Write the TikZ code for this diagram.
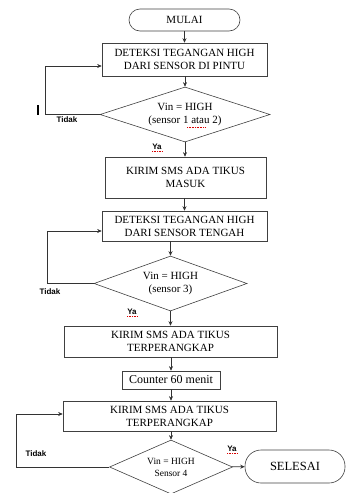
\documentclass[tikz,border=0pt]{standalone}
\usepackage{fontspec}
\setmainfont{Liberation Serif}
\newfontfamily\lblfont{Liberation Sans}
\usetikzlibrary{shapes.geometric,arrows.meta}

\begin{document}
\begin{tikzpicture}[x=1pt,y=-1pt,
  every node/.style={font=\fontsize{11}{13}\selectfont, align=center},
  proc/.style={draw=black!75, line width=.6pt, inner sep=1pt},
  term/.style={proc, rounded corners=11pt},
  decision/.style={proc, diamond, shape aspect=3},
  arr/.style={-{Stealth[length=4.5pt,width=4pt]}, draw=black!80, line width=.6pt},
  lbl/.style={font=\lblfont\bfseries\fontsize{8}{9}\selectfont, inner sep=0pt},
  spell/.style={red!85!black, densely dotted, line width=.6pt}]
\useasboundingbox (0,0) rectangle (347,493);
\node[term, minimum width=111pt, minimum height=22pt] (start) at (184.5,20) {MULAI};
\node[proc, minimum width=165pt, minimum height=33pt] (b1) at (184.5,59.5) {DETEKSI TEGANGAN HIGH\\DARI SENSOR DI PINTU};
\node[decision, minimum width=170pt, minimum height=55pt] (d1) at (185,114.5) {Vin = HIGH\\(sensor 1 atau 2)};
\node[proc, minimum width=161pt, minimum height=41pt] (b2) at (185.5,177.5) {KIRIM SMS ADA TIKUS\\MASUK};
\node[proc, minimum width=165pt, minimum height=30pt] (b3) at (184.5,226) {DETEKSI TEGANGAN HIGH\\DARI SENSOR TENGAH};
\node[decision, minimum width=153pt, minimum height=55pt] (d2) at (170.5,283.5) {Vin = HIGH\\(sensor 3)};
\node[proc, minimum width=213pt, minimum height=31pt] (b4) at (170.5,341.5) {KIRIM SMS ADA TIKUS\\TERPERANGKAP};
\node[proc, minimum width=98pt, minimum height=18pt, font=\fontsize{12}{14}\selectfont] (cnt) at (171,380) {Counter 60 menit};
\node[proc, minimum width=213pt, minimum height=30pt] (b5) at (169.5,416) {KIRIM SMS ADA TIKUS\\TERPERANGKAP};
\node[decision, minimum width=123pt, minimum height=54pt, font=\fontsize{9.5}{12}\selectfont] (d3) at (171,467) {Vin = HIGH\\Sensor 4};
\node[term, rounded corners=16pt, minimum width=100pt, minimum height=33pt, font=\fontsize{12.5}{14}\selectfont] (stop) at (295,466.5) {SELESAI};

\draw[arr] (start) -- (start.south |- b1.north);
\draw[arr] (b1.south -| d1.north) -- (d1.north);
\draw[arr] (d1) -- (d1.south |- b2.north);
\draw[arr] (b2.south -| b3.north) -- (b3.north);
\draw[arr, line width=1.1pt] (b3.south -| d2.north) -- (d2.north);
\draw[arr] (d2) -- (d2.south |- b4.north);
\draw[arr] (b4.south -| cnt.north) -- (cnt.north);
\draw[arr] (cnt.south) -- (cnt.south |- b5.north);
\draw[arr] (b5.south -| d3.north) -- (d3.north);
\draw[arr] (d3) -- (stop);

\draw[arr] (d1.west) -- ++(-54,0) |- ([yshift=-6.5pt]b1.west);
\draw[arr] (d2.west) -- ++(-46,0) |- ([yshift=-5pt]b3.west);
\draw[arr] (d3.west) -- ++(-93,0) |- ([yshift=2pt]b5.west);

\node[lbl] (no1) at (67,119.5) {Tidak};
\node[lbl] (yes1) at (157,147) {Ya};
\node[lbl] (no2) at (50,292) {Tidak};
\node[lbl] (yes2) at (132,312) {Ya};
\node[lbl] (no3) at (36,454) {Tidak};
\node[lbl] (yes3) at (232,449) {Ya};
\foreach \n in {yes1,yes2,yes3}
  \draw[spell] ([yshift=-1pt]\n.south west) -- ([yshift=-1pt]\n.south east);
\draw[spell] (187,127) -- (205,127);
\draw[line width=1.2pt] (38,105) -- (38,115);
\end{tikzpicture}
\end{document}
